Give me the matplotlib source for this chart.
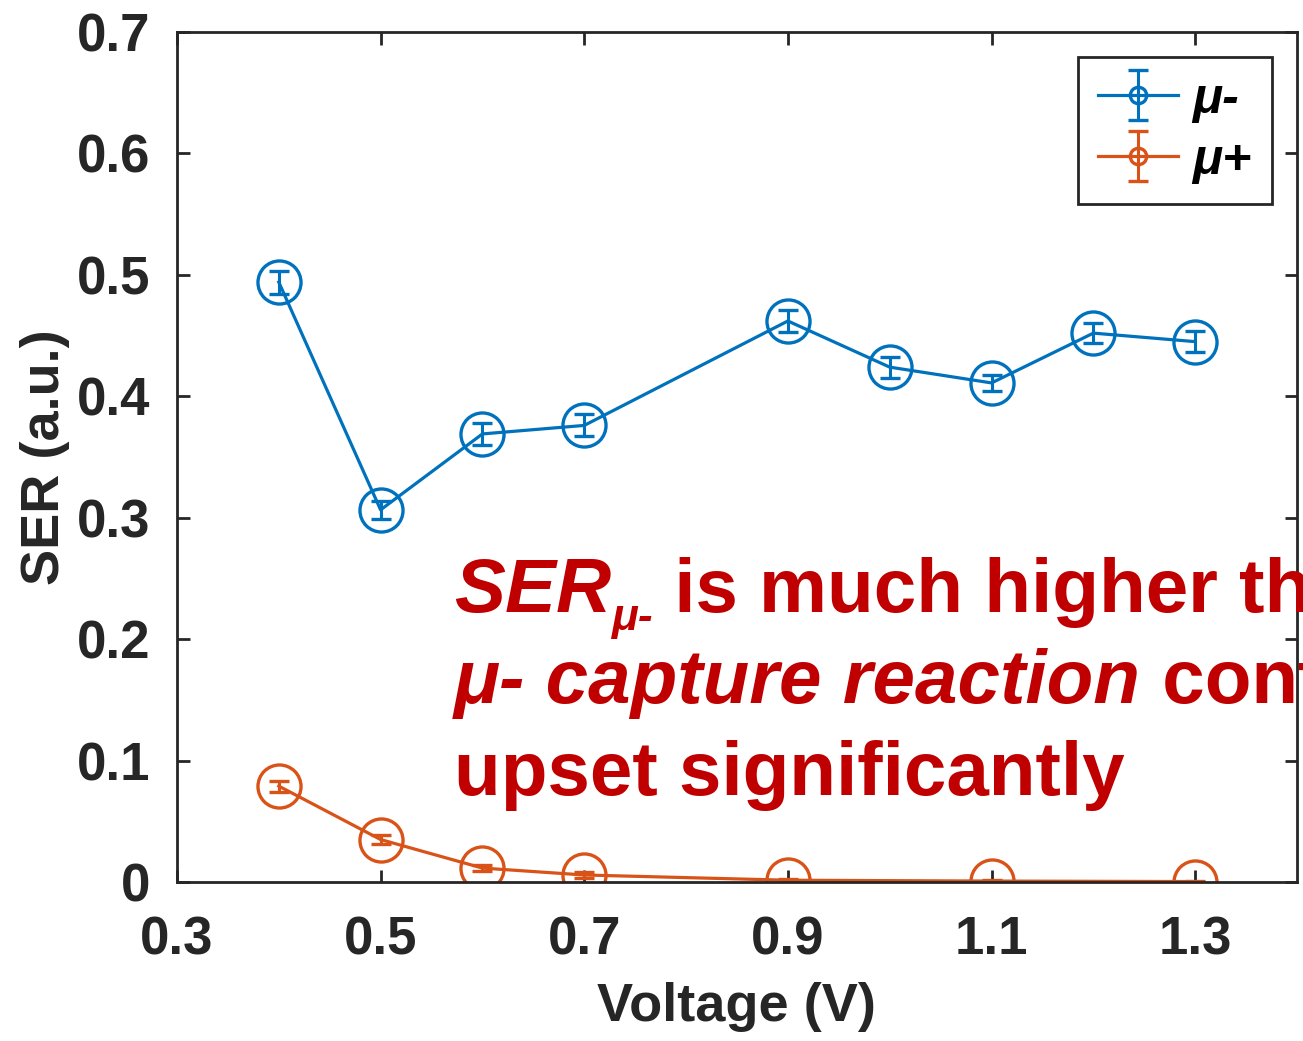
import numpy as np
import matplotlib
matplotlib.use('Agg')
import matplotlib.pyplot as plt
import matplotlib.transforms as mtransforms

# Data
v_minus = [0.4, 0.5, 0.6, 0.7, 0.9, 1.0, 1.1, 1.2, 1.3]
ser_minus = [0.494, 0.3065, 0.369, 0.376, 0.462, 0.424, 0.411, 0.452, 0.445]
err_minus = [0.0095, 0.0075, 0.009, 0.009, 0.009, 0.0086, 0.0066, 0.0082, 0.0086]

v_plus = [0.4, 0.5, 0.6, 0.7, 0.9, 1.1, 1.3]
ser_plus = [0.079, 0.035, 0.0115, 0.0058, 0.0015, 0.0008, 0.0004]
err_plus = [0.0045, 0.0037, 0.0023, 0.0025, 0.001, 0.0008, 0.0006]

xticks = [0.3, 0.5, 0.7, 0.9, 1.1, 1.3]
yticks = [0, 0.1, 0.2, 0.3, 0.4, 0.5, 0.6, 0.7]

blue = '#0072BD'
orange = '#D95319'
red = '#C00000'
dark = '#262626'

plt.rcParams['font.family'] = ['Liberation Sans', 'DejaVu Sans']
plt.rcParams['font.weight'] = 'bold'

fig = plt.figure(figsize=(13.03, 10.41), dpi=100)
ax = fig.add_axes([0.1358, 0.1527, 0.9954 - 0.1358, 0.9693 - 0.1527])

style = dict(fmt='-o', markersize=31, markerfacecolor='none', markeredgewidth=2.4,
             linewidth=2.3, elinewidth=2.2, capsize=7, capthick=2.2)
ax.errorbar(v_minus, ser_minus, yerr=err_minus, color=blue, label='μ-', **style)
ax.errorbar(v_plus, ser_plus, yerr=err_plus, color=orange, label='μ+', **style)

ax.set_xlim(0.3, 1.4)
ax.set_ylim(0, 0.7)
ax.set_xticks(xticks)
ax.set_xticklabels([str(t) for t in xticks])
ax.set_yticks(yticks)
ax.set_yticklabels(['0'] + [str(t) for t in yticks[1:]])
ax.tick_params(direction='in', length=9, width=2, colors=dark, labelsize=38,
               top=True, right=True)
ax.tick_params(axis='x', pad=24)
ax.tick_params(axis='y', pad=19)
for sp in ax.spines.values():
    sp.set_linewidth(2)
    sp.set_color(dark)
ax.set_xlabel('Voltage (V)', fontsize=39, fontweight='bold', color=dark, labelpad=12)
ax.set_ylabel('SER (a.u.)', fontsize=39, fontweight='bold', color=dark, labelpad=5)

leg = ax.legend(loc='upper right', fontsize=36, markerscale=0.38, handlelength=1.6,
                handletextpad=0.3, borderaxespad=0.5, labelspacing=0.3,
                fancybox=False, edgecolor=dark, framealpha=1)
leg.get_frame().set_linewidth(2)
for t in leg.get_texts():
    t.set_fontstyle('italic')

# Annotation built piece by piece (mixed italic / upright, subscripts)
lines = [
    [('SER', 'italic', 55, 0), ('μ-', 'italic', 32, -18), (' is much higher than ', 'normal', 55, 0),
     ('SER', 'italic', 55, 0), ('μ+', 'italic', 32, -18)],
    [('μ- capture reaction', 'italic', 55, 0), (' contributes to', 'normal', 55, 0)],
    [('upset significantly', 'normal', 55, 0)],
]
baselines = [0.2224, 0.1474, 0.0716]
renderer = fig.canvas.get_renderer()
for pieces, yb in zip(lines, baselines):
    tr = ax.transData
    x0 = 0.572
    for s, st, fs, dy in pieces:
        t = ax.text(x0, yb, s, color=red, fontsize=fs, fontstyle=st, fontweight='bold',
                    va='baseline', ha='left', clip_on=False,
                    transform=mtransforms.offset_copy(tr, fig=fig, x=0, y=dy, units='dots'))
        t.draw(renderer)
        ex = t.get_window_extent(renderer)
        tr = mtransforms.offset_copy(tr, fig=fig, x=ex.width, units='dots')

fig.savefig('out.png', dpi=100)
